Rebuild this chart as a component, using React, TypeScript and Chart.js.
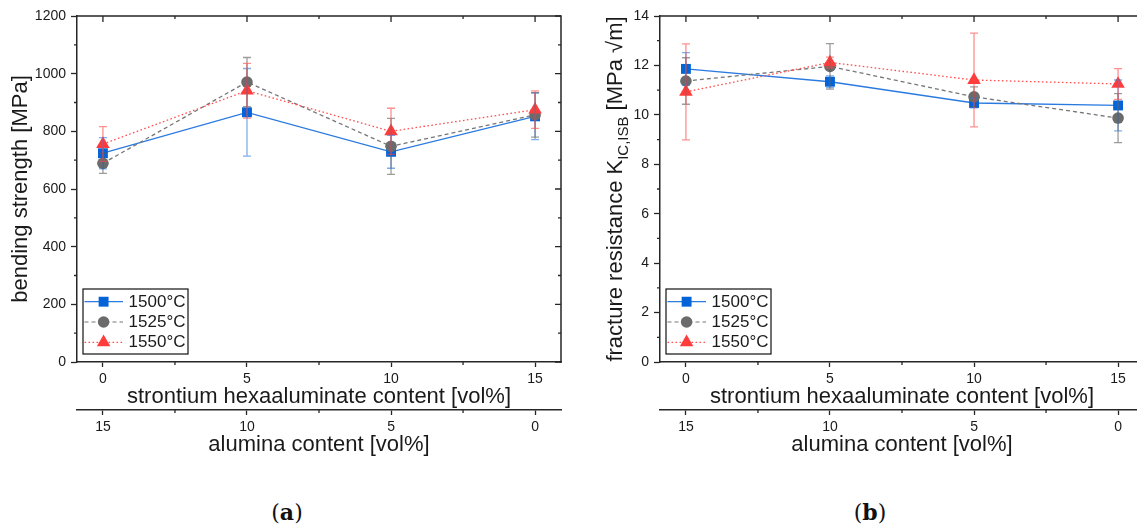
import React, { useEffect, useRef } from 'react';
import { Chart, registerables } from 'chart.js';

Chart.register(...registerables);
Chart.defaults.font.family = '"Liberation Sans", Arial, sans-serif';

// ---------------- data ----------------
const srhaContent = [0, 5, 10, 15];
const srhaTicks = [0, 5, 10, 15];
const aluminaTicks = [0, 5, 10, 15];
const xMinorTicks = [2.5, 7.5, 12.5];
const seriesLabels = ['1500°C', '1525°C', '1550°C'];

// (a) bending strength [MPa]
const strength1500 = [724, 866, 729, 852];
const strength1525 = [689, 971, 748, 857];
const strength1550 = [756, 941, 800, 875];
const strengthErr1500 = [54, 152, 57, 81];
const strengthErr1525 = [35, 85, 97, 77];
const strengthErr1550 = [60, 95, 80, 65];
const strengthTicks = [0, 200, 400, 600, 800, 1000, 1200];
const strengthMinorTicks = [100, 300, 500, 700, 900, 1100];

// (b) fracture resistance [MPa sqrt(m)]
const toughness1500 = [11.86, 11.34, 10.48, 10.38];
const toughness1525 = [11.37, 11.96, 10.73, 9.87];
const toughness1550 = [10.93, 12.12, 11.41, 11.25];
const toughnessErr1500 = [0.66, 0.24, 0.2, 1.03];
const toughnessErr1525 = [0.94, 0.92, 0.4, 0.99];
const toughnessErr1550 = [1.94, 0.22, 1.9, 0.62];
const toughnessTicks = [0, 2, 4, 6, 8, 10, 12, 14];
const toughnessMinorTicks = [1, 3, 5, 7, 9, 11, 13];

// ---------------- styles ----------------
const X_MIN = -0.9;
const X_MAX = 15.9;
const AXIS = '#262626';
const TEXT = '#1a1a1a';
const FONT = '"Liberation Sans", Arial, sans-serif';
const markerColors = ['#0563d8', '#6b6b6b', '#ff3c3c'];
const lineColors = ['#2a7ae0', '#767676', '#ff5050'];
const errColors = ['rgba(40,120,220,0.6)', 'rgba(90,90,90,0.6)', 'rgba(255,70,70,0.6)'];
const pointStyles = ['rect', 'circle', 'triangle'];
const pointRadii = [7, 5.8, 7.8];
const dashes: number[][] = [[], [4, 3], [1.6, 2.4]];

type Spec = {
  values: number[][];
  errors: number[][];
  yMin: number;
  yMax: number;
  yMajor: number[];
  yMinor: number[];
  yTitle?: string;
  yTitleParts?: { main: string; sub: string; tail: string };
};

function drawMarker(ctx: CanvasRenderingContext2D, style: string, x: number, y: number, r: number) {
  ctx.beginPath();
  if (style === 'rect') {
    const s = Math.SQRT1_2 * r;
    ctx.rect(x - s, y - s, 2 * s, 2 * s);
  } else if (style === 'circle') {
    ctx.arc(x, y, r, 0, Math.PI * 2);
  } else {
    let rad = 0;
    ctx.moveTo(x + Math.sin(rad) * r, y - Math.cos(rad) * r);
    rad += (2 * Math.PI) / 3;
    ctx.lineTo(x + Math.sin(rad) * r, y - Math.cos(rad) * r);
    rad += (2 * Math.PI) / 3;
    ctx.lineTo(x + Math.sin(rad) * r, y - Math.cos(rad) * r);
    ctx.closePath();
  }
  ctx.fill();
}

function makeDecor(spec: Spec) {
  return {
    id: 'decor',
    afterDatasetsDraw(chart: any) {
      const ctx: CanvasRenderingContext2D = chart.ctx;
      const xs = chart.scales.x;
      const ys = chart.scales.y;
      ctx.save();
      ctx.lineWidth = 1.3;
      chart.data.datasets.forEach((ds: any, i: number) => {
        const errs = spec.errors[i];
        ctx.strokeStyle = errColors[i];
        ds.data.forEach((p: any, j: number) => {
          const px = xs.getPixelForValue(p.x);
          const t = ys.getPixelForValue(p.y + errs[j]);
          const b = ys.getPixelForValue(p.y - errs[j]);
          ctx.beginPath();
          ctx.moveTo(px, t);
          ctx.lineTo(px, b);
          ctx.moveTo(px - 4, t);
          ctx.lineTo(px + 4, t);
          ctx.moveTo(px - 4, b);
          ctx.lineTo(px + 4, b);
          ctx.stroke();
        });
      });
      ctx.restore();
    },
    afterDraw(chart: any) {
      const ctx: CanvasRenderingContext2D = chart.ctx;
      const { left, right, top, bottom } = chart.chartArea;
      const xs = chart.scales.x;
      const x2 = chart.scales.x2;
      const ys = chart.scales.y;
      ctx.save();
      // frame
      ctx.strokeStyle = AXIS;
      ctx.lineWidth = 1.5;
      ctx.beginPath();
      ctx.moveTo(left - 0.75, top);
      ctx.lineTo(right, top);
      ctx.lineTo(right, bottom + 0.75);
      ctx.stroke();
      // ticks
      ctx.lineWidth = 1.3;
      ctx.beginPath();
      srhaTicks.forEach((v) => {
        const p = xs.getPixelForValue(v);
        ctx.moveTo(p, top);
        ctx.lineTo(p, top + 6);
      });
      xMinorTicks.forEach((v) => {
        const p = xs.getPixelForValue(v);
        ctx.moveTo(p, top);
        ctx.lineTo(p, top + 3);
        ctx.moveTo(p, bottom);
        ctx.lineTo(p, bottom + 3);
        const q = x2.getPixelForValue(15 - v);
        ctx.moveTo(q, x2.top);
        ctx.lineTo(q, x2.top + 3);
      });
      spec.yMajor.forEach((v) => {
        const p = ys.getPixelForValue(v);
        ctx.moveTo(right, p);
        ctx.lineTo(right - 6, p);
      });
      spec.yMinor.forEach((v) => {
        const p = ys.getPixelForValue(v);
        ctx.moveTo(right, p);
        ctx.lineTo(right - 3, p);
        ctx.moveTo(left, p);
        ctx.lineTo(left - 3, p);
      });
      ctx.stroke();

      // legend
      const bw = 105;
      const bh = 65;
      const bx = left + 6;
      const by = bottom - 8 - bh;
      ctx.fillStyle = '#ffffff';
      ctx.fillRect(bx, by, bw, bh);
      ctx.strokeStyle = '#111';
      ctx.lineWidth = 1.2;
      ctx.strokeRect(bx, by, bw, bh);
      seriesLabels.forEach((lab, i) => {
        const ry = by + 12.7 + i * 20.3;
        ctx.strokeStyle = lineColors[i];
        ctx.lineWidth = 1.2;
        ctx.setLineDash(dashes[i]);
        ctx.beginPath();
        ctx.moveTo(bx + 1.5, ry);
        ctx.lineTo(bx + 40, ry);
        ctx.stroke();
        ctx.setLineDash([]);
        ctx.fillStyle = markerColors[i];
        drawMarker(ctx, pointStyles[i], bx + 20.6, ry, pointRadii[i]);
        ctx.fillStyle = TEXT;
        ctx.font = `17px ${FONT}`;
        ctx.textAlign = 'left';
        ctx.textBaseline = 'middle';
        ctx.fillText(lab, bx + 45.6, ry + 0.5);
      });

      // composite y title with subscript
      if (spec.yTitleParts) {
        const { main, sub, tail } = spec.yTitleParts;
        const big = `22px ${FONT}`;
        const small = `15px ${FONT}`;
        ctx.font = big;
        const w1 = ctx.measureText(main).width;
        const w3 = ctx.measureText(tail).width;
        ctx.font = small;
        const w2 = ctx.measureText(sub).width;
        const total = w1 + w2 + w3;
        ctx.translate(31.5, (top + bottom) / 2);
        ctx.rotate(-Math.PI / 2);
        ctx.fillStyle = TEXT;
        ctx.textAlign = 'left';
        ctx.textBaseline = 'alphabetic';
        let cx = -total / 2;
        const base = 7.6;
        ctx.font = big;
        ctx.fillText(main, cx, base);
        cx += w1;
        ctx.font = small;
        ctx.fillText(sub, cx, base + 6);
        cx += w2;
        ctx.font = big;
        ctx.fillText(tail, cx, base);
      }
      ctx.restore();
    },
  };
}

function buildConfig(spec: Spec): any {
  const datasets = spec.values.map((vals, i) => ({
    label: seriesLabels[i],
    data: srhaContent.map((x, j) => ({ x, y: vals[j] })),
    borderColor: lineColors[i],
    backgroundColor: markerColors[i],
    pointBackgroundColor: markerColors[i],
    pointBorderColor: markerColors[i],
    pointBorderWidth: 0,
    pointStyle: pointStyles[i],
    pointRadius: pointRadii[i],
    pointHoverRadius: pointRadii[i],
    borderWidth: 1.3,
    borderDash: dashes[i],
    tension: 0,
    fill: false,
    order: 2 - i,
  }));

  const xAxis = (title: string, major: number[], weight: number, reverse: boolean, height: number, padB: number) => ({
    type: 'linear',
    position: 'bottom',
    min: X_MIN,
    max: X_MAX,
    reverse,
    weight,
    afterBuildTicks: (s: any) => {
      s.ticks = major.map((v) => ({ value: v }));
    },
    afterFit: (s: any) => {
      s.height = height;
    },
    grid: { display: true, drawOnChartArea: false, drawTicks: true, tickLength: 5, tickColor: AXIS, tickWidth: 1.3 },
    border: { display: true, color: AXIS, width: 1.5 },
    ticks: {
      color: TEXT,
      font: { size: 14 },
      padding: 4,
      maxRotation: 0,
      autoSkip: false,
      callback: (v: any) => String(v),
    },
    title: { display: true, text: title, color: TEXT, font: { size: 22 }, padding: { top: 0, bottom: padB } },
  });

  return {
    type: 'line',
    data: { datasets },
    options: {
      responsive: false,
      animation: false,
      devicePixelRatio: 1,
      events: [],
      layout: { padding: { top: 16, right: 9, bottom: 10, left: 0 } },
      plugins: { legend: { display: false }, tooltip: { enabled: false } },
      scales: {
        x: xAxis('strontium hexaaluminate content [vol%]', srhaTicks, 0, false, 48, 0),
        x2: xAxis('alumina content [vol%]', aluminaTicks, 1, true, 50, 2),
        y: {
          type: 'linear',
          position: 'left',
          min: spec.yMin,
          max: spec.yMax,
          afterBuildTicks: (s: any) => {
            s.ticks = spec.yMajor.map((v) => ({ value: v }));
          },
          afterFit: (s: any) => {
            s.width = 77;
          },
          grid: { display: true, drawOnChartArea: false, drawTicks: true, tickLength: 6, tickColor: AXIS, tickWidth: 1.3 },
          border: { display: true, color: AXIS, width: 1.5 },
          ticks: { color: TEXT, font: { size: 14 }, padding: 5, callback: (v: any) => String(v) },
          title: {
            display: !!spec.yTitle,
            text: spec.yTitle || '',
            color: TEXT,
            font: { size: 22 },
            padding: { top: 8, bottom: 0 },
          },
        },
      },
    },
    plugins: [makeDecor(spec)],
  };
}

const specA: Spec = {
  values: [strength1500, strength1525, strength1550],
  errors: [strengthErr1500, strengthErr1525, strengthErr1550],
  yMin: 0,
  yMax: 1200,
  yMajor: strengthTicks,
  yMinor: strengthMinorTicks,
  yTitle: 'bending strength [MPa]',
};

const specB: Spec = {
  values: [toughness1500, toughness1525, toughness1550],
  errors: [toughnessErr1500, toughnessErr1525, toughnessErr1550],
  yMin: 0,
  yMax: 14,
  yMajor: toughnessTicks,
  yMinor: toughnessMinorTicks,
  yTitleParts: { main: 'fracture resistance K', sub: 'IC,ISB', tail: ' [MPa \u221Am]' },
};

function Panel({ spec, left }: { spec: Spec; left: number }) {
  const ref = useRef<HTMLCanvasElement>(null);
  useEffect(() => {
    const chart = new Chart(ref.current as HTMLCanvasElement, buildConfig(spec));
    return () => chart.destroy();
  }, [spec]);
  return (
    <canvas
      ref={ref}
      width={570}
      height={470}
      style={{ position: 'absolute', left, top: 0, width: 570, height: 470 }}
    />
  );
}

function Caption({ letter, center }: { letter: string; center: number }) {
  return (
    <div
      style={{
        position: 'absolute',
        left: center - 50,
        top: 499,
        width: 100,
        textAlign: 'center',
        fontFamily: '"DejaVu Serif", "Liberation Serif", serif',
        fontSize: 22,
        lineHeight: '26px',
        color: '#111',
      }}
    >
      (<b>{letter}</b>)
    </div>
  );
}

export default function App() {
  return (
    <div
      style={{
        position: 'fixed',
        left: 0,
        top: 0,
        width: 1137,
        height: 526,
        overflow: 'hidden',
        background: '#ffffff',
      }}
    >
      <Panel spec={specA} left={0} />
      <Panel spec={specB} left={583} />
      <Caption letter="a" center={287} />
      <Caption letter="b" center={870} />
    </div>
  );
}
